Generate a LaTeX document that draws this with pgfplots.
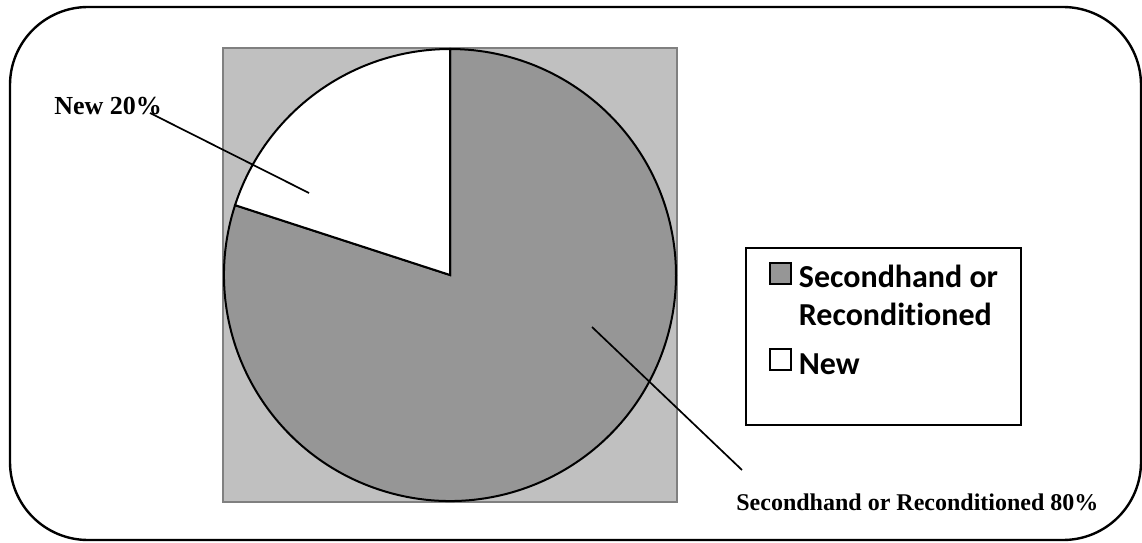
\documentclass[border=0pt]{standalone}
\usepackage{fontspec}
\setmainfont{Liberation Serif}
\newfontfamily\legendfont[RawFeature={-liga}]{Carlito}
\usepackage{pgfplots}
\pgfplotsset{compat=1.18}
\usepackage{pgfplotstable}

\definecolor{plotbg}{RGB}{192,192,192}
\definecolor{plotframe}{RGB}{128,128,128}
\definecolor{usedgray}{RGB}{150,150,150}

% shares of the two categories, in percent
\pgfplotstableread[col sep=comma]{
category,share
Secondhand or Reconditioned,80
New,20
}\piedata

\pgfplotstablegetelem{0}{share}\of\piedata
\let\shareUsed\pgfplotsretval
\pgfplotstablegetelem{1}{share}\of\piedata
\let\shareNew\pgfplotsretval

% slice angles: "New" starts at twelve o'clock and runs counter-clockwise
\pgfmathsetmacro{\angA}{90}
\pgfmathsetmacro{\angB}{90+3.6*\shareNew}
\pgfmathsetmacro{\angC}{\angB+3.6*\shareUsed}
\def\pieR{113pt}

\begin{document}
\begin{tikzpicture}[x=0.5pt,y=0.5pt]
\useasboundingbox (0,0) rectangle (1142,542);
% outer frame
\draw[line width=1.2pt, rounded corners=39pt] (10,2) rectangle (1141,535);

\begin{axis}[
  at={(111.5pt,20pt)}, anchor=south west,
  scale only axis, width=227pt, height=227pt,
  xmin=-1, xmax=1, ymin=-1, ymax=1,
  ticks=none,
  axis background/.style={fill=plotbg},
  axis line style={draw=plotframe, line width=1pt},
  legend style={
    at={(axis description cs:1.150,0.5617)}, anchor=north west,
    draw=black, line width=1pt, fill=white,
    inner xsep=11.5pt, inner ysep=7pt,
    font=\legendfont\bfseries\fontsize{16}{19}\selectfont,
    nodes={inner sep=0pt, text depth=},
    cells={anchor=base west, align=left},
    column sep=3.5pt, row sep=11pt,
  },
]
% the two-line entry sits on its last baseline, so its key is raised one line
\addlegendimage{legend image code/.code={\draw[line width=0.9pt, fill=usedgray] (0pt,21pt) rectangle (10.5pt,31.5pt);}}
\addlegendentry{Secondhand or\\Reconditioned}
\addlegendimage{legend image code/.code={\draw[line width=0.9pt, fill=white] (0pt,2pt) rectangle (10.5pt,12.5pt);}}
\addlegendentry{New\rule[-18.5pt]{0pt}{18.5pt}}

% slices
\filldraw[fill=usedgray, draw=black, line width=1pt]
  (axis cs:0,0) -- +(\angB:\pieR) arc[start angle=\angB, end angle=\angC, radius=\pieR] -- cycle;
\filldraw[fill=white, draw=black, line width=1pt]
  (axis cs:0,0) -- +(\angA:\pieR) arc[start angle=\angA, end angle=\angB, radius=\pieR] -- cycle;
\end{axis}

% data labels with leader lines
\draw[line width=0.85pt] (150,429) -- (309,349);
\draw[line width=0.85pt] (592,215) -- (742,72);
\node[anchor=base west, inner sep=0pt, font=\bfseries\fontsize{13}{15}\selectfont]
  at (54,427) {New \shareNew\%};
\node[anchor=base west, inner sep=0pt, font=\bfseries\fontsize{12}{14}\selectfont]
  at (736,32) {Secondhand or Reconditioned \shareUsed\%};
\end{tikzpicture}
\end{document}
